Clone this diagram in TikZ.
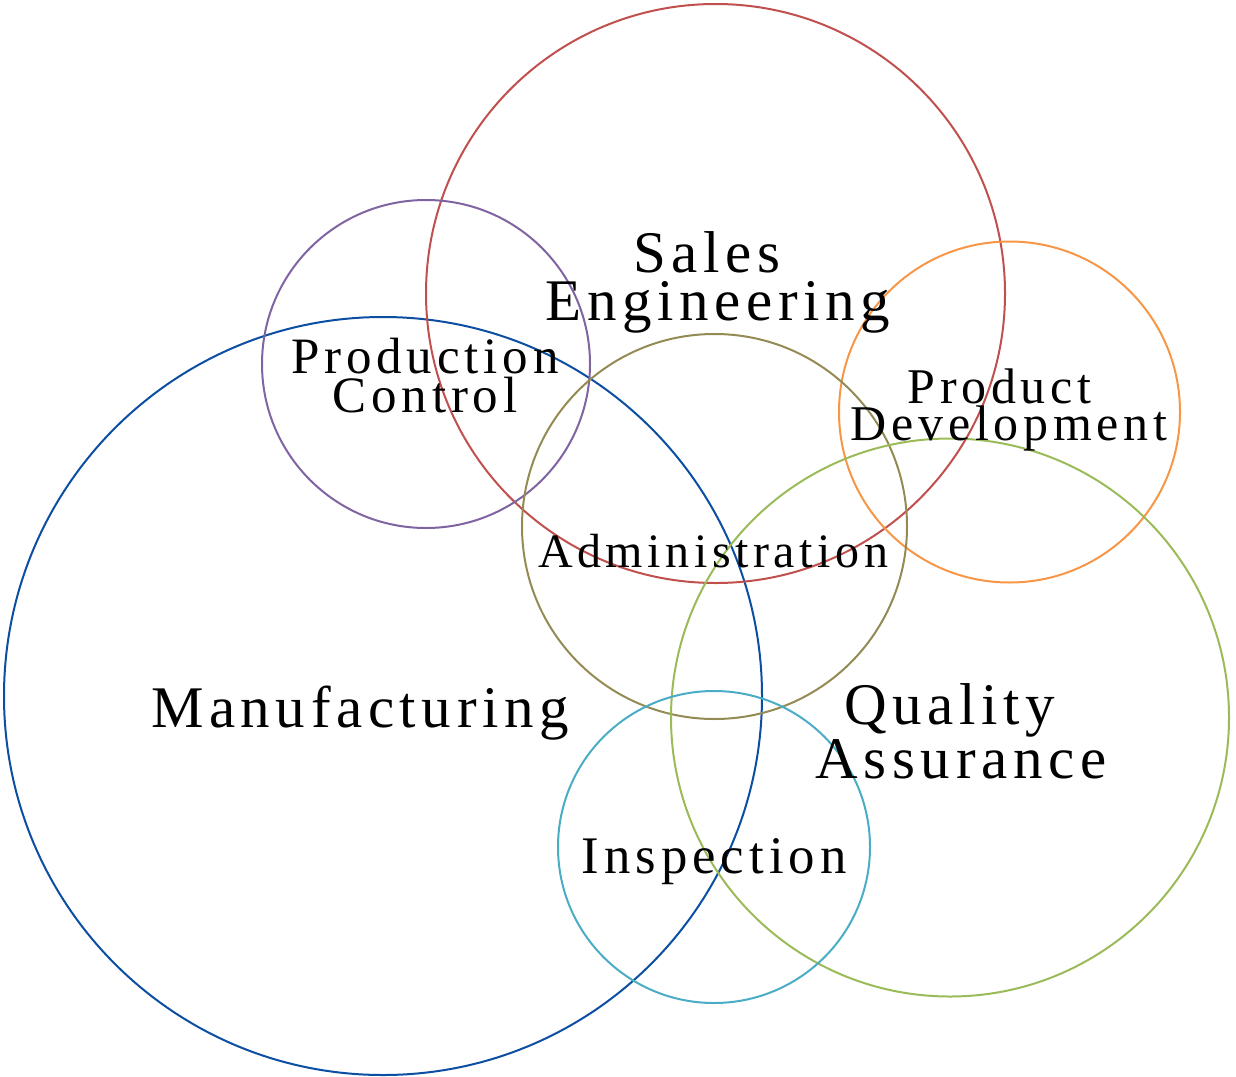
\documentclass[tikz,border=0pt]{standalone}
\usepackage{fontspec}
\setmainfont{Liberation Serif}[LetterSpace=9.5]
\definecolor{manublue}{HTML}{0B4EA2}
\definecolor{salesred}{HTML}{C0504D}
\definecolor{prodpurple}{HTML}{8064A2}
\definecolor{devorange}{HTML}{F79646}
\definecolor{adminolive}{HTML}{948A54}
\definecolor{qagreen}{HTML}{9BBB59}
\definecolor{inspcyan}{HTML}{4BACC6}
\tikzset{
  ring/.style={draw=#1, circle, inner sep=0pt, line width=1pt},
  lbl/.style={align=center, anchor=base, inner sep=0pt}
}
\begin{document}
\begin{tikzpicture}[x=0.5pt,y=-0.5pt]
    \useasboundingbox (0,0) rectangle (1236,1076);
    % circles, size = diameter
    \node[ring=manublue, minimum size=379pt] (manu) at (383,696) {};
    \node[ring=salesred, minimum size=289.5pt] (sales) at (715.5,293.5) {};
    \node[ring=prodpurple, minimum size=164pt] (prodctl) at (426,364) {};
    \node[ring=devorange, minimum size=170.5pt] (proddev) at (1009.5,412) {};
    \node[ring=adminolive, minimum size=192.5pt] (admin) at (714.5,526.5) {};
    \node[ring=qagreen, minimum size=279pt] (qa) at (950,717.5) {};
    \node[ring=inspcyan, minimum size=156pt] (insp) at (714,847) {};
    % labels, base = last line
    \node[lbl, font=\fontsize{29.5}{24}\selectfont] (saleslbl) at (718,320) {Sales\hspace*{11pt}\\Engineering};
    \node[lbl, font=\fontsize{25.5}{19.5}\selectfont] (prodctllbl) at (425,412) {Production\\Control};
    \node[lbl, font=\fontsize{25}{18.5}\selectfont] (proddevlbl) at (1009,440) {Product\hspace*{9.5pt}\\Development};
    \node[lbl, font=\fontsize{24}{20}\selectfont] (adminlbl) at (713,567) {Administration};
    \node[lbl, font=\fontsize{29.5}{24}\selectfont] (manulbl) at (360,727) {Manufacturing};
    \node[lbl, font=\fontsize{29.5}{22.5}\selectfont] (qalbl) at (961,778) {Quality\hspace*{11pt}\\Assurance};
    \node[lbl, font=\fontsize{26.4}{20}\selectfont] (insplbl) at (714,873) {Inspection};
\end{tikzpicture}
\end{document}
